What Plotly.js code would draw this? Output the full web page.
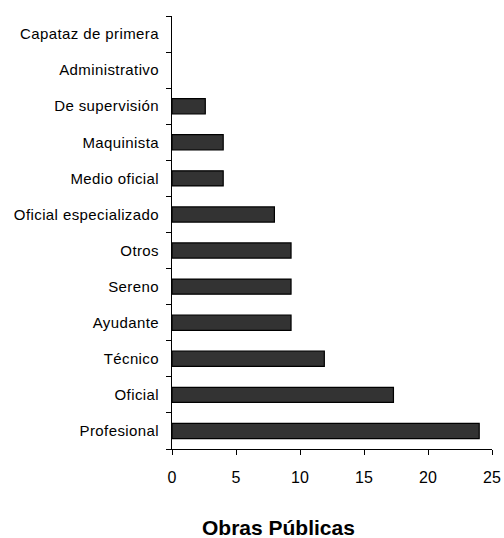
<!DOCTYPE html>
<html>
<head>
<meta charset="utf-8">
<script src="https://cdn.plot.ly/plotly-3.0.1.min.js"></script>
<style>
html,body{margin:0;padding:0;background:#fff;}
#chart{width:504px;height:538px;}
.ytick text{letter-spacing:0.4px;}
</style>
</head>
<body>
<div id="chart"></div>
<script>
const categories = ["Profesional","Oficial","Técnico","Ayudante","Sereno","Otros","Oficial especializado","Medio oficial","Maquinista","De supervisión","Administrativo","Capataz de primera"];
const values = [24, 17.3, 11.9, 9.3, 9.3, 9.3, 8.0, 4.0, 4.0, 2.6, 0, 0];
const xTicks = [0, 5, 10, 15, 20, 25];
const chartTitle = "Obras Públicas";

const trace = {
  type: "bar",
  orientation: "h",
  x: values,
  y: categories,
  width: 0.42,
  marker: {color: "#333333", line: {color: "#000000", width: values.map(v => v > 0 ? 1.2 : 0)}},
  hoverinfo: "x+y"
};

const layout = {
  width: 504,
  height: 538,
  margin: {l: 172, r: 12, t: 16, b: 89},
  paper_bgcolor: "#ffffff",
  plot_bgcolor: "#ffffff",
  showlegend: false,
  font: {family: "Liberation Sans, Arial, sans-serif", size: 15, color: "#000000"},
  xaxis: {
    range: [0, 25],
    tickvals: xTicks,
    ticktext: xTicks.map(String),
    showgrid: false,
    zeroline: false,
    showline: true,
    linecolor: "#000000",
    linewidth: 1,
    ticks: "outside",
    ticklen: 5,
    tickcolor: "#000000",
    tickfont: {size: 16},
    ticklabelstandoff: 9
  },
  yaxis: {
    type: "category",
    categoryorder: "array",
    categoryarray: categories,
    range: [-0.5, 11.5],
    showgrid: false,
    zeroline: false,
    showline: true,
    linecolor: "#000000",
    linewidth: 1,
    ticks: "outside",
    tickson: "boundaries",
    ticklen: 5,
    tickcolor: "#000000",
    tickfont: {size: 15},
    ticklabelstandoff: 9
  },
  annotations: [{
    text: chartTitle,
    xref: "paper", yref: "paper",
    x: 0.334, y: -0.1813,
    xanchor: "center", yanchor: "middle",
    showarrow: false,
    font: {size: 21, weight: "bold", color: "#000000"}
  }]
};

Plotly.newPlot("chart", [trace], layout, {displayModeBar: false, staticPlot: true});
</script>
</body>
</html>
